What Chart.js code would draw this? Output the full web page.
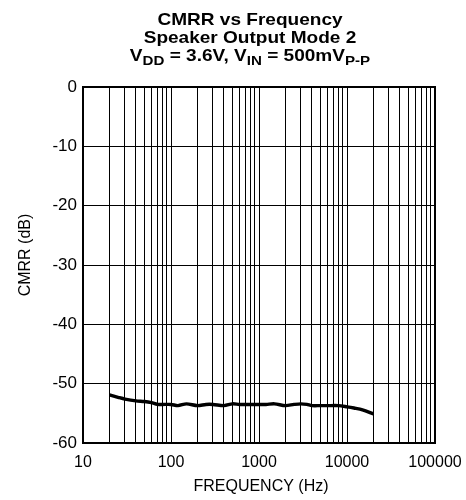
<!DOCTYPE html>
<html>
<head>
<meta charset="utf-8">
<script src="https://cdn.jsdelivr.net/npm/chart.js@4.4.1/dist/chart.umd.min.js"></script>
<style>
  html, body { margin: 0; padding: 0; background: #fff; }
  #wrap { position: relative; width: 466px; height: 500px; }
</style>
</head>
<body>
<div id="wrap"><canvas id="chartCmrr"></canvas></div>
<script>
// CMRR vs frequency, speaker output mode 2
const freqHz = [20, 25, 30, 40, 50, 60, 70, 80, 100, 120, 150, 200, 250, 300, 400, 500, 600, 800,
                1000, 1200, 1500, 2000, 2500, 3000, 3500, 4000, 5000, 6000, 8000, 10000, 12000, 15000, 20000];
const cmrrDb = [-51.9, -52.3, -52.6, -52.9, -53.0, -53.2, -53.5, -53.5, -53.5, -53.7, -53.4, -53.7, -53.5, -53.5, -53.7, -53.4, -53.5, -53.5,
                -53.5, -53.5, -53.4, -53.7, -53.5, -53.4, -53.5, -53.7, -53.7, -53.7, -53.7, -53.9, -54.1, -54.4, -55.1];
const decadeTicks = [10, 100, 1000, 10000, 100000];
const yTicks = [0, -10, -20, -30, -40, -50, -60];

const titleLines = ['CMRR vs Frequency', 'Speaker Output Mode 2'];
// third title line: [text, isSubscript]
const titleCond = [['V', false], ['DD', true], [' = 3.6V, V', false], ['IN', true], [' = 500mV', false], ['P-P', true]];
const xTitle = 'FREQUENCY (Hz)';
const yTitle = 'CMRR (dB)';

const FONT = '"Liberation Sans", Arial, sans-serif';

// title block with subscripts, axis titles and a heavy frame round the plot
const decorPlugin = {
    id: 'decor',
    afterDraw(chart) {
        const c = chart.ctx;
        const a = chart.chartArea;
        const cx = 250;
        const sx = 1.12;   // title face runs a little wide
        c.save();
        c.fillStyle = '#000';
        c.textBaseline = 'alphabetic';

        c.save();
        c.translate(cx, 0);
        c.scale(sx, 1);
        c.textAlign = 'center';
        c.font = 'bold 17px ' + FONT;
        c.fillText(titleLines[0], 0, 25);
        c.fillText(titleLines[1], 0, 43);

        const big = 'bold 17px ' + FONT, small = 'bold 13.5px ' + FONT;
        let total = 0;
        titleCond.forEach(([t, sub]) => { c.font = sub ? small : big; total += c.measureText(t).width; });
        let x = -total / 2;
        c.textAlign = 'left';
        titleCond.forEach(([t, sub]) => {
            c.font = sub ? small : big;
            c.fillText(t, x, sub ? 65 : 61);
            x += c.measureText(t).width;
        });
        c.restore();

        c.font = '16px ' + FONT;
        c.textAlign = 'center';
        c.fillText(xTitle, 261, 491);
        c.save();
        c.translate(30, 255);
        c.rotate(-Math.PI / 2);
        c.fillText(yTitle, 0, 0);
        c.restore();

        c.strokeStyle = '#000';
        c.lineWidth = 2;
        c.strokeRect(a.left, a.top, a.right - a.left, a.bottom - a.top);
        c.restore();
    }
};

const chart = new Chart(document.getElementById('chartCmrr'), {
    type: 'line',
    data: {
        datasets: [{
            data: freqHz.map((f, i) => ({x: f, y: cmrrDb[i]})),
            borderColor: '#000',
            borderWidth: 3.4,
            pointRadius: 0,
            tension: 0.3,
            fill: false
        }]
    },
    options: {
        responsive: true,
        maintainAspectRatio: false,
        animation: false,
        layout: {padding: {top: 87, right: 31, left: 0, bottom: 0}},
        plugins: {legend: {display: false}, tooltip: {enabled: false}},
        scales: {
            x: {
                type: 'logarithmic',
                min: 10,
                max: 100000,
                afterBuildTicks: (scale) => {
                    const t = [];
                    decadeTicks.forEach((d, i) => {
                        if (i === decadeTicks.length - 1) { t.push({value: d}); return; }
                        for (let k = 1; k < 10; k++) t.push({value: d * k});
                    });
                    scale.ticks = t;
                },
                afterFit: (scale) => { scale.height = 57; scale.paddingLeft = 0; scale.paddingRight = 0; },
                ticks: {
                    autoSkip: false,
                    maxRotation: 0,
                    color: '#000',
                    padding: 10,
                    font: {family: FONT, size: 16},
                    callback: (v) => decadeTicks.includes(v) ? String(v) : ''
                },
                grid: {color: '#000', lineWidth: 1, drawTicks: false},
                border: {color: '#000', width: 2}
            },
            y: {
                min: -60,
                max: 0,
                afterBuildTicks: (scale) => { scale.ticks = yTicks.map(v => ({value: v})); },
                afterFit: (scale) => { scale.width = 83; scale.paddingTop = 0; scale.paddingBottom = 0; },
                ticks: {color: '#000', padding: 6, font: {family: FONT, size: 17}},
                grid: {color: '#000', lineWidth: 1, drawTicks: false},
                border: {color: '#000', width: 2}
            }
        }
    },
    plugins: [decorPlugin]
});
</script>
</body>
</html>
